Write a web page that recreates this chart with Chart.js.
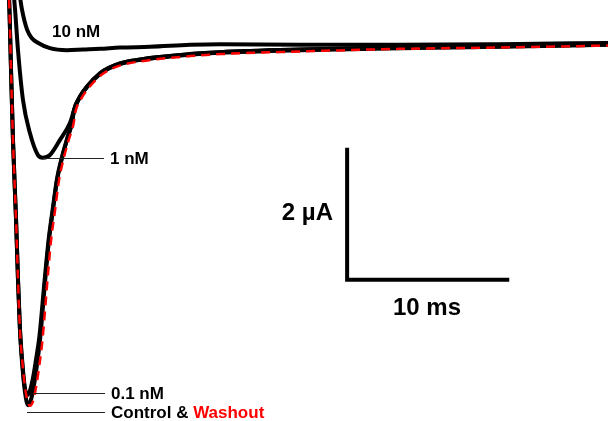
<!DOCTYPE html>
<html>
<head>
<meta charset="utf-8">
<script src="https://cdn.jsdelivr.net/npm/chart.js@4"></script>
<style>
  body { margin: 0; background: #fff; }
  #wrap { width: 608px; height: 421px; }
</style>
</head>
<body>
<div id="wrap"><canvas id="myChart"></canvas></div>
<script>
// time in ms, current in µA
var controlT = [0.43, 0.56, 0.68, 0.80, 0.99, 1.11, 1.23, 1.36, 1.54, 1.73, 1.91, 2.10, 2.28, 2.47, 2.78, 3.02, 3.27, 3.52, 3.83, 4.13, 4.44, 4.57, 4.94, 5.37, 6.17, 6.79, 7.40, 9.25, 11.72, 13.57, 18.51, 24.68, 30.85, 37.5];
var controlI = [0.93, 0.70, -0.36, -1.42, -2.63, -3.54, -4.30, -4.79, -5.24, -5.44, -5.36, -5.13, -4.83, -4.45, -3.57, -2.94, -2.48, -2.03, -1.69, -1.42, -1.16, -0.97, -0.77, -0.62, -0.42, -0.33, -0.27, -0.19, -0.13, -0.10, -0.06, -0.03, -0.01, 0.02];

var washoutT = [0.43, 0.56, 0.68, 0.80, 0.99, 1.11, 1.23, 1.38, 1.60, 1.85, 2.05, 2.25, 2.43, 2.62, 2.92, 3.15, 3.40, 3.64, 3.94, 4.24, 4.54, 4.67, 5.02, 5.44, 6.22, 6.83, 7.44, 9.28, 11.75, 13.6, 18.51, 24.68, 30.85, 37.5];
var washoutI = [0.93, 0.70, -0.36, -1.42, -2.63, -3.54, -4.30, -4.79, -5.26, -5.45, -5.37, -5.13, -4.83, -4.45, -3.57, -2.94, -2.48, -2.03, -1.69, -1.42, -1.17, -0.98, -0.79, -0.64, -0.44, -0.35, -0.29, -0.21, -0.15, -0.12, -0.08, -0.04, -0.02, 0.01];

var nM01T = [0.43, 0.56, 0.68, 0.80, 0.99, 1.11, 1.23, 1.36, 1.51, 1.67, 1.85, 2.04, 2.22, 2.43, 2.75, 3.00, 3.25, 3.51, 3.82, 4.13, 4.44, 4.57, 4.94, 5.37, 6.17, 6.79, 7.40, 9.25, 11.72, 13.57, 18.51, 24.68, 30.85, 37.5];
var nM01I = [0.93, 0.70, -0.36, -1.42, -2.63, -3.54, -4.28, -4.74, -5.13, -5.29, -5.22, -5.02, -4.75, -4.40, -3.55, -2.93, -2.47, -2.02, -1.68, -1.41, -1.15, -0.96, -0.76, -0.61, -0.41, -0.32, -0.26, -0.18, -0.12, -0.09, -0.05, -0.02, 0.00, 0.03];

var nM1T = [0.80, 0.93, 1.11, 1.42, 1.85, 2.34, 2.65, 3.08, 3.70, 4.32, 4.57, 4.94, 5.37, 6.17, 6.79, 7.40, 9.25, 11.72, 13.57, 18.51, 24.68, 30.85, 37.5];
var nM1I = [0.93, 0.55, -0.06, -0.82, -1.32, -1.65, -1.69, -1.65, -1.42, -1.16, -0.97, -0.76, -0.61, -0.41, -0.32, -0.26, -0.18, -0.12, -0.09, -0.05, -0.02, 0.00, 0.03];

var nM10T = [1.17, 1.36, 1.67, 1.97, 2.28, 3.08, 4.13, 5.12, 6.17, 7.40, 9.25, 11.72, 13.57, 18.51, 24.68, 30.85, 37.5];
var nM10I = [0.85, 0.55, 0.25, 0.12, 0.06, -0.03, -0.06, -0.05, -0.04, -0.02, -0.01, 0.02, 0.03, 0.02, 0.02, 0.03, 0.05];

// scale bar: 10 ms by 2 µA
var barT = [21.41, 21.41, 31.41];
var barI = [-1.54, -3.54, -3.54];

function pts(t, y) {
  return t.map(function(v, i) { return { x: v, y: y[i] }; });
}

function trace(data, color, width, dash) {
  return {
    data: data,
    borderColor: color,
    borderWidth: width,
    borderDash: dash || [],
    pointRadius: 0,
    fill: false,
    cubicInterpolationMode: 'monotone'
  };
}

var labelsPlugin = {
  id: 'labels',
  afterDatasetsDraw: function(chart) {
    var ctx = chart.ctx;
    ctx.save();
    // leader lines
    ctx.strokeStyle = '#222';
    ctx.lineWidth = 1.2;
    [[43, 158, 104], [34, 393, 105], [27, 412, 105]].forEach(function(l) {
      ctx.beginPath();
      ctx.moveTo(l[0], l[1] + 0.5);
      ctx.lineTo(l[2], l[1] + 0.5);
      ctx.stroke();
    });

    ctx.fillStyle = '#000';
    ctx.textBaseline = 'middle';
    ctx.font = 'bold 17px "Liberation Sans", Arial, sans-serif';
    ctx.textAlign = 'left';
    ctx.fillText('10 nM', 52, 32);
    ctx.fillText('1 nM', 110, 159);
    ctx.fillText('0.1 nM', 111, 394);
    ctx.fillText('Control & ', 111, 413);
    var w = ctx.measureText('Control & ').width;
    ctx.fillStyle = '#f00';
    ctx.fillText('Washout', 111 + w, 413);

    ctx.fillStyle = '#000';
    ctx.font = 'bold 24px "Liberation Sans", Arial, sans-serif';
    ctx.textAlign = 'right';
    ctx.fillText('2 µA', 333, 213);
    ctx.textAlign = 'center';
    ctx.fillText('10 ms', 427, 308);
    ctx.restore();
  }
};

var ctx = document.getElementById('myChart').getContext('2d');
var chart = new Chart(ctx, {
  type: 'line',
  data: {
    datasets: [
      trace(pts(washoutT, washoutI), '#f00', 2.5, [9, 6]),
      trace(pts(controlT, controlI), '#000', 4),
      trace(pts(nM01T, nM01I), '#000', 4),
      trace(pts(nM1T, nM1I), '#000', 4),
      trace(pts(nM10T, nM10I), '#000', 4),
      Object.assign(trace(pts(barT, barI), '#000', 4), { cubicInterpolationMode: 'default', tension: 0 })
    ]
  },
  options: {
    responsive: true,
    maintainAspectRatio: false,
    animation: false,
    layout: { padding: 0 },
    plugins: { legend: { display: false }, tooltip: { enabled: false } },
    scales: {
      x: { type: 'linear', min: 0, max: 37.5, display: false },
      y: { type: 'linear', min: -5.68, max: 0.7, display: false }
    }
  },
  plugins: [labelsPlugin]
});
</script>
</body>
</html>
